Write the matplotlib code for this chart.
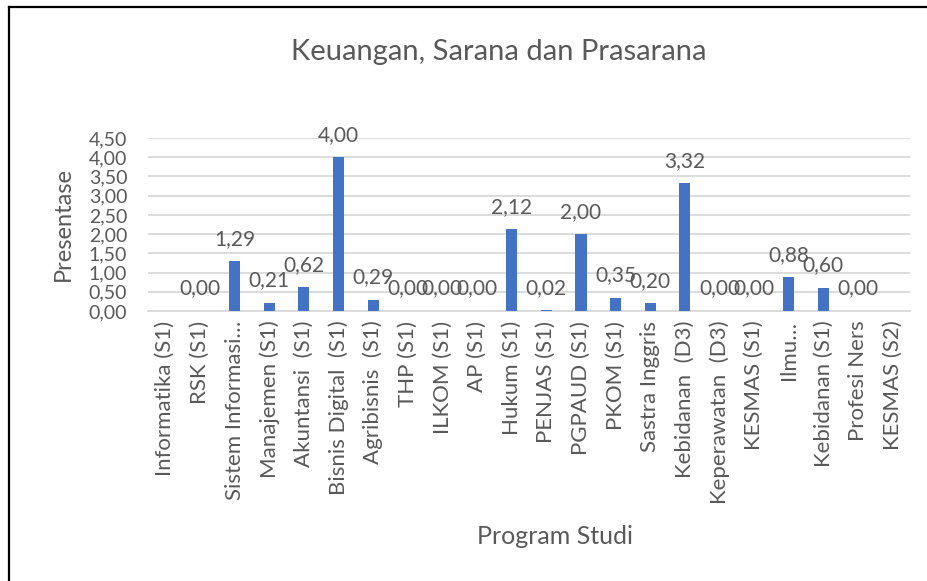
import numpy as np
import matplotlib.pyplot as plt
from matplotlib.lines import Line2D

plt.rcParams['font.family'] = ['Lato', 'DejaVu Sans']

# Data
programs = ['Informatika (S1)', 'RSK (S1)', 'Sistem Informasi…', 'Manajemen (S1)',
            'Akuntansi  (S1)', 'Bisnis Digital  (S1)', 'Agribisnis  (S1)', 'THP (S1)',
            'ILKOM (S1)', 'AP (S1)', 'Hukum (S1)', 'PENJAS (S1)', 'PGPAUD (S1)',
            'PKOM (S1)', 'Sastra Inggris', 'Kebidanan  (D3)', 'Keperawatan  (D3)',
            'KESMAS (S1)', 'Ilmu…', 'Kebidanan (S1)', 'Profesi Ners', 'KESMAS (S2)']
values = [np.nan, 0.00, 1.29, 0.21, 0.62, 4.00, 0.29, 0.00, 0.00, 0.00, 2.12, 0.02,
          2.00, 0.35, 0.20, 3.32, 0.00, 0.00, 0.88, 0.60, 0.00, np.nan]
yticks = [0, 0.5, 1.0, 1.5, 2.0, 2.5, 3.0, 3.5, 4.0, 4.5]

text_col = '#595959'
grid_col = '#d9d9d9'

fig = plt.figure(figsize=(9.28, 5.81), dpi=100)
ax = fig.add_axes([0.1595, 0.4647, 0.8211, 0.2978])

x = np.arange(len(programs))
vals = np.array(values, dtype=float)
ax.bar(x, np.nan_to_num(vals), width=0.32, color='#4472C4', zorder=3)

# data labels (overlapping ones overlap in the original too)
for xi, v in zip(x, vals):
    if np.isnan(v):
        continue
    ax.annotate(f'{v:.2f}'.replace('.', ','), (xi, v), xytext=(0, 9),
                textcoords='offset points', ha='center', va='bottom',
                fontsize=15, color=text_col, zorder=4)

ax.set_xlim(-0.5, len(programs) - 0.5)
ax.set_ylim(0, 4.5)
ax.set_yticks(yticks)
ax.set_yticklabels([f'{t:.2f}'.replace('.', ',') for t in yticks])
ax.set_xticks(x)
ax.set_xticklabels(programs, rotation=90, ha='center', va='top')
ax.tick_params(axis='both', length=0, colors=text_col)
ax.tick_params(axis='x', pad=7, labelsize=16)
ax.tick_params(axis='y', pad=15, labelsize=14)

ax.yaxis.grid(True, color=grid_col, linewidth=1.3, zorder=0)
for s in ['top', 'right', 'left']:
    ax.spines[s].set_visible(False)
ax.spines['bottom'].set_color(grid_col)
ax.spines['bottom'].set_linewidth(1.3)

ax.set_ylabel('Presentase', fontsize=17, color=text_col, labelpad=11)
fig.text(0.598, 0.077, 'Program Studi', ha='center', va='center',
         fontsize=18, color=text_col)
fig.text(0.537, 0.91, 'Keuangan, Sarana dan Prasarana', ha='center', va='center',
         fontsize=21, color=text_col)

# frame (only left and top edges visible in the crop)
fig.add_artist(Line2D([0.0102, 0.0102], [0.0, 0.9888], color='black', linewidth=1.6,
                      transform=fig.transFigure))
fig.add_artist(Line2D([0.0102, 1.0], [0.9888, 0.9888], color='black', linewidth=1.6,
                      transform=fig.transFigure))

fig.savefig('out.png', dpi=100, facecolor='white')
